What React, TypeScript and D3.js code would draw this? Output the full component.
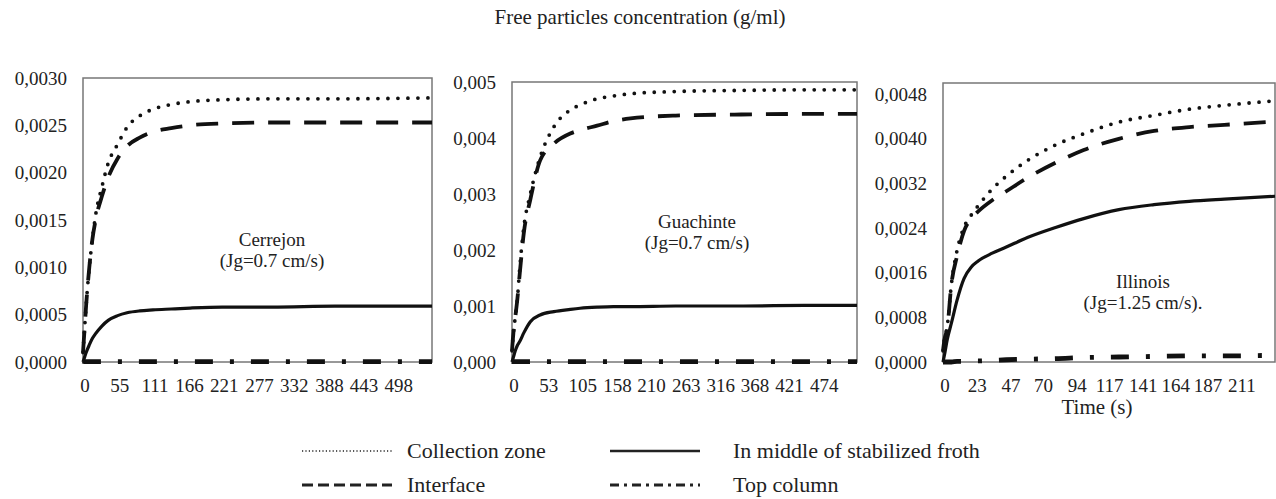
import React from "react";
import * as d3 from "d3";

// ---- data ----
const cerrejonTime = [0, 2, 5, 10, 15, 20, 30, 40, 55, 70, 90, 111, 140, 170, 221, 300, 400, 554];
const cerrejonCollection = [0.0001, 0.0003, 0.0006, 0.001, 0.0013, 0.00155, 0.00185, 0.0021, 0.0023, 0.00248, 0.0026, 0.00267, 0.00272, 0.00275, 0.00277, 0.00278, 0.00278, 0.00279];
const cerrejonInterface = [0.0001, 0.0003, 0.0006, 0.001, 0.0013, 0.0015, 0.00175, 0.00195, 0.00215, 0.00228, 0.00237, 0.00243, 0.00247, 0.0025, 0.00252, 0.00253, 0.00253, 0.00253];
const cerrejonMiddle = [0, 0.00004, 0.0001, 0.00018, 0.00025, 0.0003, 0.00038, 0.00044, 0.00049, 0.00052, 0.00054, 0.00055, 0.00056, 0.00057, 0.00058, 0.00058, 0.00059, 0.00059];
const cerrejonTop = [0.00001, 0.000005, 0.000005, 0.000005, 0.000005, 0.000005, 0.000005, 0.000005, 0.000005, 0.000005, 0.000005, 0.000005, 0.000005, 0.000005, 0.000005, 0.000005, 0.000005, 0.000005];
const cerrejonTicks = ["0", "55", "111", "166", "221", "277", "332", "388", "443", "498"];
const cerrejonYTicks = [0, 0.0005, 0.001, 0.0015, 0.002, 0.0025, 0.003];

const guachinteTime = [0, 2, 5, 8, 12, 18, 28, 43, 64, 89, 104, 130, 155, 181, 250, 350, 450, 527];
const guachinteCollection = [0.0002, 0.0005, 0.0008, 0.0011, 0.0017, 0.0024, 0.003, 0.00366, 0.0042, 0.0045, 0.00459, 0.0047, 0.00475, 0.00479, 0.00483, 0.00485, 0.00486, 0.00486];
const guachinteInterface = [0.0002, 0.0005, 0.0008, 0.0011, 0.0016, 0.0023, 0.0029, 0.0036, 0.0039, 0.00408, 0.00414, 0.00422, 0.0043, 0.00435, 0.0044, 0.00442, 0.00443, 0.00443];
const guachinteMiddle = [0, 0.00008, 0.0002, 0.00029, 0.00037, 0.00052, 0.00072, 0.00084, 0.0009, 0.00094, 0.00096, 0.00098, 0.00099, 0.00099, 0.001, 0.001, 0.00101, 0.00101];
const guachinteTop = [0.00001, 0.000005, 0.000005, 0.000005, 0.000005, 0.000005, 0.000005, 0.000005, 0.000005, 0.000005, 0.000005, 0.000005, 0.000005, 0.000005, 0.000005, 0.000005, 0.000005, 0.000005];
const guachinteTicks = ["0", "53", "105", "158", "210", "263", "316", "368", "421", "474"];
const guachinteYTicks = [0, 0.001, 0.002, 0.003, 0.004, 0.005];

const illinoisTime = [0, 1, 3, 6, 10, 15, 20, 25, 35, 45, 60, 80, 100, 125, 150, 175, 200, 236];
const illinoisCollection = [0.0002, 0.0004, 0.00064, 0.0014, 0.002, 0.00242, 0.00263, 0.0028, 0.0031, 0.00333, 0.00361, 0.00389, 0.00409, 0.0043, 0.00442, 0.00453, 0.0046, 0.00468];
const illinoisInterface = [0.0002, 0.0004, 0.0006, 0.0014, 0.0019, 0.00235, 0.00257, 0.0027, 0.0029, 0.00306, 0.0033, 0.00357, 0.0038, 0.004, 0.00414, 0.00421, 0.00425, 0.00431];
const illinoisMiddle = [0, 0.00012, 0.0004, 0.0007, 0.00111, 0.0015, 0.0017, 0.00181, 0.00195, 0.00206, 0.00223, 0.00241, 0.00257, 0.00273, 0.00282, 0.00288, 0.00292, 0.00297];
const illinoisTop = [0, 0, 0, 0, 0.00001, 0.00001, 0.00002, 0.00002, 0.00003, 0.00004, 0.00005, 0.00006, 0.00008, 0.00009, 0.0001, 0.00011, 0.00011, 0.00012];
const illinoisTicks = ["0", "23", "47", "70", "94", "117", "141", "164", "187", "211"];
const illinoisYTicks = [0, 0.0008, 0.0016, 0.0024, 0.0032, 0.004, 0.0048];

const seriesNames = ["Collection zone", "In middle of stabilized froth", "Interface", "Top column"];

const FONT = "'Liberation Serif', 'Times New Roman', serif";
const TXT = "#222";

const styles: Record<string, any> = {
  collection: { width: 3.8, dash: "0 10", cap: "round" },
  interface: { width: 3.8, dash: "22 14", cap: "butt" },
  middle: { width: 3.2, dash: null, cap: "butt" },
  top: { width: 4.8, dash: "18 17 4 17", cap: "butt" },
};

type PanelProps = {
  x0: number; x1: number; y0: number; y1: number;
  xMax: number; yMax: number; decimals: number;
  time: number[]; collection: number[]; iface: number[]; middle: number[]; top: number[];
  ticks: string[]; yTicks: number[];
  label: string[]; labelX: number; labelY: number;
};

function Panel(p: PanelProps) {
  const x = d3.scaleLinear().domain([0, p.xMax]).range([p.x0, p.x1]);
  const y = d3.scaleLinear().domain([0, p.yMax]).range([p.y1, p.y0]);
  const line = d3
    .line<number>()
    .x((_, i) => x(p.time[i]))
    .y(d => y(d))
    .curve(d3.curveMonotoneX);
  const fmt = (v: number) => v.toFixed(p.decimals).replace(".", ",");
  const series = [
    { key: "top", data: p.top },
    { key: "middle", data: p.middle },
    { key: "interface", data: p.iface },
    { key: "collection", data: p.collection },
  ];
  return (
    <g>
      <rect x={p.x0} y={p.y0} width={p.x1 - p.x0} height={p.y1 - p.y0} fill="white" stroke="#777" strokeWidth={1.5} />
      {p.yTicks.map(t => (
        <text key={t} x={p.x0 - 16} y={y(t)} dy="0.35em" textAnchor="end" fontSize={19} fill={TXT}>
          {fmt(t)}
        </text>
      ))}
      {p.ticks.map(t => (
        <text key={t} x={x(+t) + 2} y={p.y1 + 30} textAnchor="middle" fontSize={19} fill={TXT}>
          {t}
        </text>
      ))}
      {series.map(s => {
        const st = styles[s.key];
        return (
          <path
            key={s.key}
            d={line(s.data) || ""}
            fill="none"
            stroke="#111"
            strokeWidth={st.width}
            strokeDasharray={st.dash || undefined}
            strokeLinecap={st.cap}
            strokeLinejoin="round"
          />
        );
      })}
      <text x={p.labelX} y={p.labelY} textAnchor="middle" fontSize={19} fill={TXT}>
        <tspan x={p.labelX}>{p.label[0]}</tspan>
        <tspan x={p.labelX} dy={21}>{p.label[1]}</tspan>
      </text>
    </g>
  );
}

export default function App() {
  const legend = [
    { name: seriesNames[0], lx: 302, tx: 407, y: 451, stroke: 1.5, dash: "1.2 2.2" },
    { name: seriesNames[1], lx: 610, tx: 733, y: 451, stroke: 2.5, dash: undefined },
    { name: seriesNames[2], lx: 302, tx: 407, y: 485, stroke: 3, dash: "11 5" },
    { name: seriesNames[3], lx: 610, tx: 733, y: 485, stroke: 3, dash: "9 5 3 5" },
  ];
  return (
    <svg width={1276} height={499} style={{ position: "absolute", left: 0, top: 0, background: "white" }} fontFamily={FONT}>
      <text x={640} y={24} textAnchor="middle" fontSize={21} fill={TXT}>
        Free particles concentration (g/ml)
      </text>
      <Panel
        x0={83} x1={432} y0={78} y1={362} xMax={554} yMax={0.003} decimals={4}
        time={cerrejonTime} collection={cerrejonCollection} iface={cerrejonInterface}
        middle={cerrejonMiddle} top={cerrejonTop} ticks={cerrejonTicks} yTicks={cerrejonYTicks}
        label={["Cerrejon", "(Jg=0.7 cm/s)"]} labelX={272} labelY={246}
      />
      <Panel
        x0={512} x1={857} y0={82} y1={362} xMax={527} yMax={0.005} decimals={3}
        time={guachinteTime} collection={guachinteCollection} iface={guachinteInterface}
        middle={guachinteMiddle} top={guachinteTop} ticks={guachinteTicks} yTicks={guachinteYTicks}
        label={["Guachinte", "(Jg=0.7 cm/s)"]} labelX={697} labelY={228}
      />
      <Panel
        x0={943} x1={1275} y0={83} y1={362} xMax={236} yMax={0.005} decimals={4}
        time={illinoisTime} collection={illinoisCollection} iface={illinoisInterface}
        middle={illinoisMiddle} top={illinoisTop} ticks={illinoisTicks} yTicks={illinoisYTicks}
        label={["Illinois", "(Jg=1.25 cm/s)."]} labelX={1143} labelY={288}
      />
      <text x={1097} y={414} textAnchor="middle" fontSize={21} fill={TXT}>
        Time (s)
      </text>
      {legend.map(l => (
        <g key={l.name}>
          <line x1={l.lx} x2={l.lx + 90} y1={l.y} y2={l.y} stroke="#222" strokeWidth={l.stroke} strokeDasharray={l.dash} />
          <text x={l.tx} y={l.y} dy="0.32em" fontSize={22} fill={TXT}>
            {l.name}
          </text>
        </g>
      ))}
    </svg>
  );
}
